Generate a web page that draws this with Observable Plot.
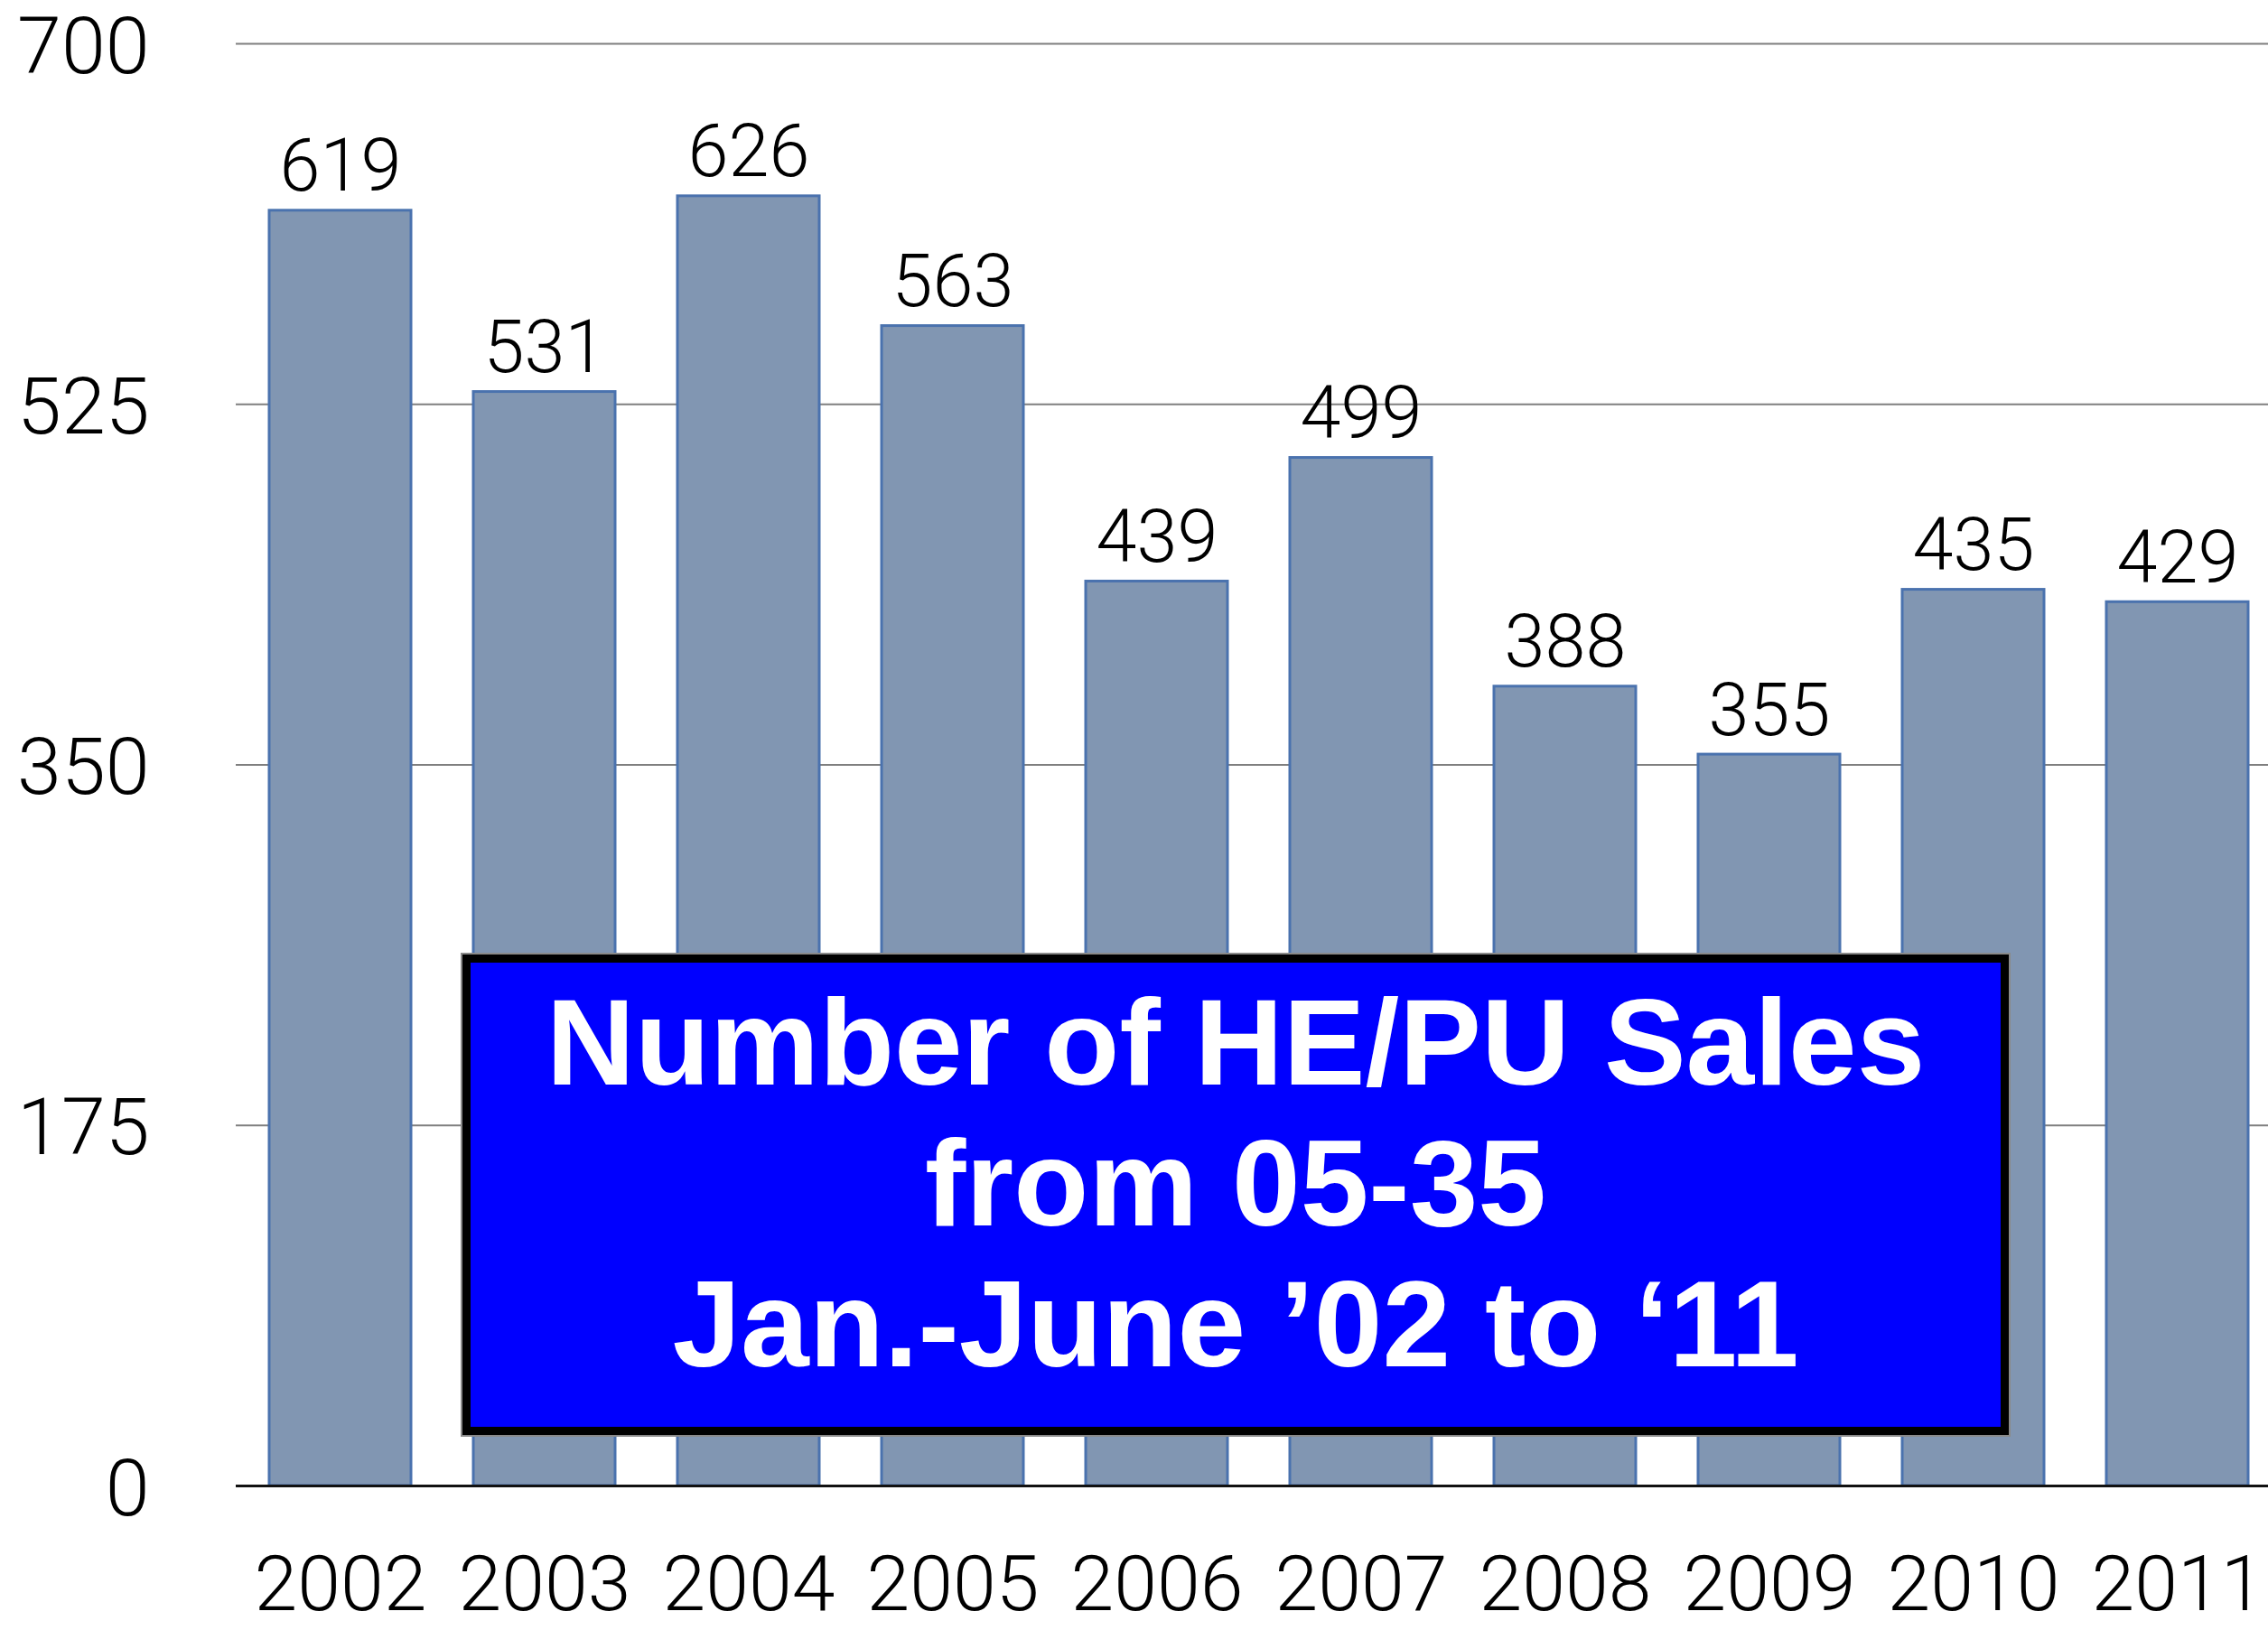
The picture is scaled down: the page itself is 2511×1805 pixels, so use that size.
<!DOCTYPE html>
<html>
<head>
<meta charset="utf-8">
<script src="https://cdn.jsdelivr.net/npm/d3@7"></script>
<script src="https://cdn.jsdelivr.net/npm/@observablehq/plot@0.6"></script>
<style>
  html, body { margin: 0; padding: 0; background: #fff; }
  #wrap { position: relative; width: 2511px; height: 1805px; overflow: hidden; }
  #box {
    position: absolute; left: 512px; top: 1057px; width: 1712px; height: 532px;
    box-sizing: border-box; border: 9px solid #000; background: #0000ff;
    box-shadow: 0 0 0 2px #8a8a8a;
    color: #fff; font-family: "Liberation Sans", Arial, sans-serif; font-weight: bold;
    font-size: 136px; line-height: 156px; text-align: center; padding-top: 10px;
  }
</style>
</head>
<body>
<div id="wrap"><div id="box"></div></div>
<script>
const years = ["2002", "2003", "2004", "2005", "2006", "2007", "2008", "2009", "2010", "2011"];
const sales = [619, 531, 626, 563, 439, 499, 388, 355, 435, 429];
const yTicks = [0, 175, 350, 525, 700];
const annotationLines = ["Number of HE/PU Sales", "from 05-35", "Jan.-June ’02 to ‘11"];

const data = years.map((year, i) => ({year, value: sales[i]}));

const chart = Plot.plot({
  width: 2511,
  height: 1805,
  marginLeft: 261,
  marginRight: 0,
  marginTop: 48,
  marginBottom: 160,
  style: {fontFamily: "Roboto, 'Liberation Sans', sans-serif", fontWeight: 300, background: "transparent", overflow: "visible"},
  x: {domain: years, range: [226.5, 2561], padding: 0.307, label: null},
  y: {domain: [0, 700], label: null},
  marks: [
    Plot.ruleY(yTicks.slice(1), {stroke: "#7f7f7f", strokeWidth: 2}),
    Plot.barY(data, {x: "year", y: "value", fill: "#8196b2", stroke: "#4a72ae", strokeWidth: 3}),
    Plot.ruleY([0], {stroke: "#111", strokeWidth: 3}),
    Plot.text(data, {x: "year", y: "value", text: d => String(d.value), lineAnchor: "bottom", dy: -22, fontSize: 81, fill: "#000"}),
    Plot.axisX({tickSize: 0, tickPadding: 76, fontSize: 86, fill: "#000"}),
    Plot.axisY({ticks: yTicks, tickSize: 0, tickPadding: 96, fontSize: 88, dy: 4, fill: "#000", tickFormat: d => String(d)})
  ]
});

const wrap = document.getElementById("wrap");
wrap.insertBefore(chart, wrap.firstChild);
const box = document.getElementById("box");
annotationLines.forEach(t => { const d = document.createElement("div"); d.textContent = t; box.appendChild(d); });
</script>
</body>
</html>
